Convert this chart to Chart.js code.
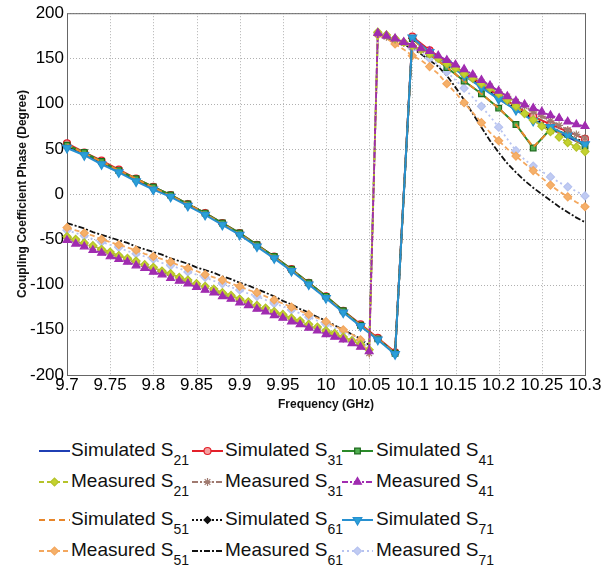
<!DOCTYPE html>
<html>
<head>
<meta charset="utf-8">
<script src="https://cdn.jsdelivr.net/npm/chart.js"></script>
<style>
  html, body { margin: 0; padding: 0; background: #fff; }
  #wrap { position: relative; width: 608px; height: 573px; overflow: hidden; }
  #chart { position: absolute; left: 0; top: 0; }
  .lg { position: absolute; font-family: 'Liberation Sans', Arial, sans-serif; font-size: 19px; color: #111; white-space: nowrap; line-height: 20px; }
  .lg sub { font-size: 14px; vertical-align: baseline; position: relative; top: 9px; }
  .sw { position: absolute; }
</style>
</head>
<body>
<div id="wrap">
  <canvas id="chart" width="608" height="420"></canvas>
  <div id="legend"></div>
</div>
<script>
// frequency grids (GHz)
const simFreq = [9.70, 9.72, 9.74, 9.76, 9.78, 9.80, 9.82, 9.84, 9.86, 9.88,
  9.90, 9.92, 9.94, 9.96, 9.98, 10.00, 10.02, 10.04, 10.06, 10.08,
  10.10, 10.12, 10.14, 10.16, 10.18, 10.20, 10.22, 10.24, 10.26, 10.28, 10.30]
const measFreq = [9.70, 9.71, 9.72, 9.73, 9.74, 9.75, 9.76, 9.77, 9.78, 9.79,
  9.80, 9.81, 9.82, 9.83, 9.84, 9.85, 9.86, 9.87, 9.88, 9.89,
  9.90, 9.91, 9.92, 9.93, 9.94, 9.95, 9.96, 9.97, 9.98, 9.99,
  10.00, 10.01, 10.02, 10.03, 10.04, 10.05, 10.06, 10.07, 10.08, 10.09,
  10.10, 10.11, 10.12, 10.13, 10.14, 10.15, 10.16, 10.17, 10.18, 10.19,
  10.20, 10.21, 10.22, 10.23, 10.24, 10.25, 10.26, 10.27, 10.28, 10.29, 10.30]

// simulated phases (degree)
const simS21 = [53, 44, 35, 25, 16, 7, -2, -12, -22, -33, -44, -57, -70, -84, -99, -114, -130, -145, -160, -176,
  173, 158, 145, 132, 119, 106, 93, 82, 72, 63, 54]
const simS31 = [56, 46, 37, 27, 17, 8, -1, -11, -21, -32, -43, -56, -69, -83, -98, -113, -129, -144, -159, -175,
  174, 159, 146, 134, 122, 109, 97, 86, 77, 69, 61]
const simS41 = [54, 46, 36, 26, 17, 8, -1, -11, -21, -32, -43, -56, -69, -83, -98, -113, -129, -145, -160, -176,
  172, 155, 140, 125, 111, 95, 77, 51, 72, 66, 53]
const simS51 = [55, 45, 36, 26, 17, 7, -2, -11, -22, -33, -44, -57, -70, -84, -99, -114, -130, -145, -160, -176,
  172, 155, 140, 125, 111, 95, 77, 52, 71, 65, 53]
const simS61 = [53, 45, 35, 26, 16, 7, -2, -11, -21, -33, -44, -57, -70, -84, -99, -114, -130, -145, -160, -176,
  172, 158, 145, 133, 120, 107, 95, 84, 74, 65, 57]
const simS71 = [51, 43, 33, 24, 14, 5, -3, -13, -23, -34, -45, -58, -71, -85, -100, -115, -131, -146, -161, -177,
  173, 157, 144, 131, 118, 105, 93, 81, 74, 65, 55]

// measured phases (degree)
const measS21 = [-47, -50, -54, -57, -61, -64, -68, -71, -74, -78,
  -81, -85, -88, -92, -95, -99, -102, -105, -109, -112,
  -116, -119, -123, -126, -130, -133, -137, -140, -144, -147,
  -151, -154, -158, -162, -166, -172, 179, 176, 172, 168,
  164, 160, 155, 150, 144, 139, 133, 128, 122, 117,
  111, 104, 97, 89, 82, 75, 69, 63, 57, 52, 47]
const measS31 = [-49, -52, -56, -59, -63, -66, -70, -73, -76, -80,
  -83, -87, -90, -94, -97, -101, -104, -107, -111, -114,
  -118, -121, -125, -128, -132, -135, -139, -142, -146, -149,
  -153, -156, -160, -163, -167, -176, 177, 174, 171, 167,
  163, 159, 155, 150, 145, 140, 135, 130, 124, 119,
  113, 108, 102, 97, 91, 86, 81, 76, 71, 66, 62]
const measS41 = [-51, -55, -58, -62, -65, -69, -72, -75, -79, -82,
  -86, -89, -93, -96, -99, -103, -106, -109, -113, -116,
  -120, -123, -127, -130, -134, -137, -141, -144, -148, -151,
  -155, -158, -161, -165, -169, -174, 178, 175, 172, 168,
  165, 161, 158, 153, 148, 143, 138, 132, 126, 120,
  114, 108, 103, 99, 95, 91, 87, 84, 80, 77, 75]
const measS51 = [-37, -40, -43, -46, -50, -53, -56, -59, -62, -66,
  -69, -72, -75, -79, -82, -85, -89, -92, -95, -99,
  -102, -106, -109, -113, -117, -121, -125, -129, -133, -137,
  -141, -146, -150, -155, -161, -178, 176, 172, 166, 160,
  153, 148, 141, 133, 122, 112, 101, 90, 79, 68,
  59, 50, 42, 34, 26, 18, 10, 3, -3, -9, -14]
const measS61 = [-32, -35, -38, -42, -45, -48, -51, -54, -58, -61,
  -64, -67, -71, -74, -77, -81, -84, -87, -91, -94,
  -98, -101, -105, -109, -113, -118, -122, -127, -131, -136,
  -140, -145, -150, -155, -160, -167, 176, 172, 169, 165,
  161, 155, 148, 141, 131, 118, 104, 89, 74, 59,
  46, 34, 24, 15, 7, 0, -7, -14, -20, -26, -31]
const measS71 = [-40, -43, -46, -50, -53, -56, -59, -63, -66, -69,
  -72, -76, -79, -82, -86, -89, -92, -96, -99, -103,
  -106, -110, -113, -117, -121, -124, -128, -132, -136, -140,
  -144, -148, -152, -157, -162, -170, 178, 175, 171, 166,
  161, 156, 150, 143, 135, 126, 117, 107, 97, 86,
  74, 61, 48, 38, 31, 25, 19, 13, 8, 3, -2]

const xTicks = [9.7, 9.75, 9.8, 9.85, 9.9, 9.95, 10, 10.05, 10.1, 10.15, 10.2, 10.25, 10.3]
const xTickLabels = ['9.7', '9.75', '9.8', '9.85', '9.9', '9.95', '10', '10.05', '10.1', '10.15', '10.2', '10.25', '10.3']
const yTicks = [-200, -150, -100, -50, 0, 50, 100, 150, 200]
const yTickLabels = ['-200', '-150', '-100', '-50', '0', '50', '100', '150', '200']

// legend order: 4 rows x 3 columns
const series = [
  { kind: 'Simulated', sub: '21', freq: simFreq, vals: simS21, color: '#1f3fb4', dash: [], width: 2, order: 11 },
  { kind: 'Simulated', sub: '31', freq: simFreq, vals: simS31, color: '#e3202a', dash: [], width: 2, order: 7,
    marker: 'circle', radius: 3.5, fill: '#f4a0a0' },
  { kind: 'Simulated', sub: '41', freq: simFreq, vals: simS41, color: '#2a8a2a', dash: [], width: 2, order: 6,
    marker: 'rect', radius: 4, fill: '#4fae4f', edge: '#1d6a1d' },
  { kind: 'Measured', sub: '21', freq: measFreq, vals: measS21, color: '#b5c32a', dash: [5, 3], width: 1.8, order: 1,
    marker: 'rectRot', radius: 4, fill: '#c4d22e' },
  { kind: 'Measured', sub: '31', freq: measFreq, vals: measS31, color: '#a07a70', dash: [6, 2, 2, 2], width: 1.8, order: 2,
    marker: 'star', radius: 4, fill: '#a07a70' },
  { kind: 'Measured', sub: '41', freq: measFreq, vals: measS41, color: '#a02cb0', dash: [6, 2, 2, 2], width: 1.8, order: 0,
    marker: 'triangle', radius: 4.5, fill: '#a02cb0' },
  { kind: 'Simulated', sub: '51', freq: simFreq, vals: simS51, color: '#e8862a', dash: [6, 4], width: 2, order: 5 },
  { kind: 'Simulated', sub: '61', freq: simFreq, vals: simS61, color: '#111111', dash: [2, 2], width: 2, order: 10,
    marker: 'rectRot', radius: 3.5, fill: '#111111' },
  { kind: 'Simulated', sub: '71', freq: simFreq, vals: simS71, color: '#2790d0', dash: [], width: 2, order: 3,
    marker: 'triangle', radius: 5, fill: '#2aa0d8', rotation: 180 },
  { kind: 'Measured', sub: '51', freq: measFreq, vals: measS51, color: '#f3a75e', dash: [5, 3], width: 1.8, order: 8,
    marker: 'rectRot', radius: 4, fill: '#f5b06a', every: 2 },
  { kind: 'Measured', sub: '61', freq: measFreq, vals: measS61, color: '#111111', dash: [6, 2, 2, 2], width: 1.8, order: 9 },
  { kind: 'Measured', sub: '71', freq: measFreq, vals: measS71, color: '#b7c3f0', dash: [2, 3], width: 1.8, order: 8,
    marker: 'rectRot', radius: 4, fill: '#c0cbf2', every: 2 }
]

const datasets = series.map(s => ({
  label: s.kind + ' S' + s.sub,
  data: s.freq.map((f, i) => ({ x: f, y: s.vals[i] })),
  borderColor: s.color,
  borderDash: s.dash,
  borderWidth: s.width,
  order: s.order,
  fill: false,
  tension: 0,
  clip: 8,
  pointStyle: s.marker || 'circle',
  pointRotation: s.rotation || 0,
  pointRadius: ctx => (s.marker && ctx.dataIndex % (s.every || 1) === 0) ? s.radius : 0,
  pointBackgroundColor: s.fill || s.color,
  pointBorderColor: s.edge || s.color,
  pointBorderWidth: 1.2,
  pointHoverRadius: 0
}))

// dotted MATLAB-like grid and box around the plot area
const framePlugin = {
  id: 'frame',
  beforeDatasetsDraw(chart) {
    const { ctx, chartArea: a, scales } = chart
    ctx.save()
    ctx.strokeStyle = '#b0b0b0'
    ctx.lineWidth = 1
    ctx.setLineDash([1, 2])
    xTicks.forEach(v => {
      const px = Math.round(scales.x.getPixelForValue(v)) + 0.5
      ctx.beginPath(); ctx.moveTo(px, a.top); ctx.lineTo(px, a.bottom); ctx.stroke()
    })
    yTicks.forEach(v => {
      const py = Math.round(scales.y.getPixelForValue(v)) + 0.5
      ctx.beginPath(); ctx.moveTo(a.left, py); ctx.lineTo(a.right, py); ctx.stroke()
    })
    ctx.setLineDash([])
    ctx.strokeStyle = '#666'
    ctx.strokeRect(a.left + 0.5, a.top + 0.5, a.right - a.left, a.bottom - a.top)
    ctx.restore()
  }
}

const tickFont = { family: "'Liberation Sans', Arial, sans-serif", size: 17 }
const titleFont = { family: "'Liberation Sans', Arial, sans-serif", size: 12, weight: 'bold' }

new Chart(document.getElementById('chart'), {
  type: 'line',
  data: { datasets: datasets },
  options: {
    responsive: false,
    animation: false,
    events: [],
    layout: { padding: { left: 0, right: 23, top: 12, bottom: 0 } },
    plugins: { legend: { display: false }, tooltip: { enabled: false } },
    scales: {
      x: {
        type: 'linear', min: 9.7, max: 10.3,
        afterBuildTicks: s => { s.ticks = xTicks.map(v => ({ value: v })) },
        afterFit: s => { s.height = 45 },
        ticks: { color: '#000', font: tickFont, padding: 0, maxRotation: 0, autoSkip: false,
          callback: (v, i) => xTickLabels[i] },
        grid: { display: false, drawTicks: false },
        border: { display: false },
        title: { display: true, text: 'Frequency (GHz)', color: '#111', font: titleFont, padding: { top: 0, bottom: 8 } }
      },
      y: {
        min: -200, max: 200,
        afterBuildTicks: s => { s.ticks = yTicks.map(v => ({ value: v })) },
        afterFit: s => { s.width = 67 },
        ticks: { color: '#000', font: tickFont, padding: 3, autoSkip: false,
          callback: (v, i) => yTickLabels[i] },
        grid: { display: false, drawTicks: false },
        border: { display: false },
        title: { display: true, text: 'Coupling Coefficient Phase (Degree)', color: '#111', font: titleFont, padding: { top: 15, bottom: 0 } }
      }
    }
  },
  plugins: [framePlugin]
})

// legend below the plot
const colX = [[38, 71], [191, 225], [341, 376]]
const rowY = [451, 482, 520, 551]
const legend = document.getElementById('legend')
series.forEach((s, i) => {
  const r = Math.floor(i / 3), c = i % 3
  const cv = document.createElement('canvas')
  cv.width = 33; cv.height = 20
  cv.className = 'sw'
  cv.style.left = colX[c][0] + 'px'
  cv.style.top = (rowY[r] - 10) + 'px'
  legend.appendChild(cv)
  const g = cv.getContext('2d')
  g.strokeStyle = s.color
  g.lineWidth = s.width
  g.setLineDash(s.dash)
  g.beginPath(); g.moveTo(1, 10); g.lineTo(32, 10); g.stroke()
  g.setLineDash([])
  if (s.marker) {
    g.fillStyle = s.fill
    g.strokeStyle = s.edge || s.color
    g.lineWidth = 1.2
    Chart.helpers.drawPoint(g, { pointStyle: s.marker, radius: s.radius, rotation: s.rotation || 0, borderWidth: 1.2 }, 16.5, 10)
  }
  const t = document.createElement('div')
  t.className = 'lg'
  t.style.left = colX[c][1] + 'px'
  t.style.top = (rowY[r] - 11) + 'px'
  t.innerHTML = s.kind + ' S<sub>' + s.sub + '</sub>'
  legend.appendChild(t)
})
</script>
</body>
</html>
